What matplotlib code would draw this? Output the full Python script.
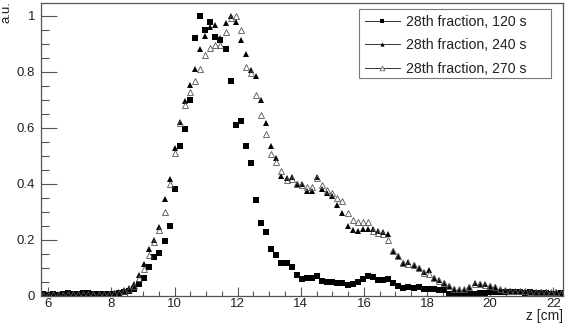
import matplotlib
matplotlib.use('Agg')
import matplotlib.pyplot as plt
from matplotlib.lines import Line2D
from matplotlib.patches import Rectangle
from matplotlib.ticker import FixedLocator, FixedFormatter, MultipleLocator

plt.rcParams['font.family'] = ['Liberation Sans', 'DejaVu Sans']

# ---------------- data ----------------
z = [5.820, 5.981, 6.142, 6.303, 6.464, 6.625, 6.786, 6.947, 7.108, 7.269,
     7.430, 7.591, 7.752, 7.913, 8.074, 8.235, 8.396, 8.557, 8.718, 8.879,
     9.040, 9.201, 9.362, 9.523, 9.684, 9.845, 10.006, 10.167, 10.328, 10.489,
     10.650, 10.811, 10.972, 11.133, 11.294, 11.455, 11.616, 11.777, 11.938, 12.099,
     12.260, 12.421, 12.582, 12.743, 12.904, 13.065, 13.226, 13.387, 13.548, 13.709,
     13.870, 14.031, 14.192, 14.353, 14.514, 14.675, 14.836, 14.997, 15.158, 15.319,
     15.480, 15.641, 15.802, 15.963, 16.124, 16.285, 16.446, 16.607, 16.768, 16.929,
     17.090, 17.251, 17.412, 17.573, 17.734, 17.895, 18.056, 18.217, 18.378, 18.539,
     18.700, 18.861, 19.022, 19.183, 19.344, 19.505, 19.666, 19.827, 19.988, 20.149,
     20.310, 20.471, 20.632, 20.793, 20.954, 21.115, 21.276, 21.437, 21.598, 21.759,
     21.920, 22.081, 22.242]

s120 = [0.004, 0.003, 0.005, 0.003, 0.006, 0.009, 0.006, 0.007, 0.010, 0.008,
        0.007, 0.007, 0.005, 0.004, 0.006, 0.008, 0.012, 0.017, 0.024, 0.040,
        0.064, 0.103, 0.136, 0.151, 0.196, 0.248, 0.379, 0.534, 0.595, 0.700,
        0.920, 1.000, 0.949, 0.978, 0.923, 0.912, 0.879, 0.766, 0.608, 0.624,
        0.534, 0.472, 0.341, 0.258, 0.228, 0.165, 0.146, 0.115, 0.115, 0.101,
        0.073, 0.059, 0.061, 0.061, 0.071, 0.053, 0.047, 0.047, 0.044, 0.044,
        0.038, 0.040, 0.047, 0.060, 0.068, 0.065, 0.057, 0.055, 0.060, 0.044,
        0.034, 0.026, 0.031, 0.026, 0.031, 0.023, 0.022, 0.022, 0.020, 0.020,
        0.004, 0.003, 0.003, 0.003, 0.004, 0.005, 0.008, 0.010, 0.012, 0.014,
        0.012, 0.013, 0.012, 0.011, 0.012, 0.010, 0.011, 0.010, 0.009, 0.008,
        0.007, 0.006, 0.008]

s240 = [0.003, 0.004, 0.002, 0.005, 0.004, 0.006, 0.005, 0.004, 0.006, 0.005,
        0.004, 0.005, 0.006, 0.007, 0.010, 0.013, 0.020, 0.026, 0.041, 0.072,
        0.111, 0.165, 0.200, 0.243, 0.344, 0.418, 0.528, 0.620, 0.695, 0.751,
        0.809, 0.880, 0.928, 0.960, 0.966, 0.920, 0.972, 1.000, 0.977, 0.912,
        0.862, 0.806, 0.784, 0.700, 0.615, 0.534, 0.493, 0.427, 0.419, 0.422,
        0.397, 0.397, 0.373, 0.373, 0.422, 0.379, 0.365, 0.355, 0.324, 0.293,
        0.247, 0.235, 0.231, 0.238, 0.236, 0.238, 0.232, 0.228, 0.218, 0.160,
        0.141, 0.115, 0.121, 0.109, 0.099, 0.084, 0.091, 0.061, 0.055, 0.046,
        0.034, 0.022, 0.020, 0.021, 0.030, 0.043, 0.041, 0.041, 0.034, 0.030,
        0.020, 0.016, 0.015, 0.014, 0.013, 0.014, 0.012, 0.013, 0.011, 0.012,
        0.010, 0.011, 0.009]

s270 = [0.002, 0.003, 0.004, 0.003, 0.003, 0.005, 0.004, 0.005, 0.004, 0.006,
        0.005, 0.004, 0.005, 0.005, 0.008, 0.010, 0.015, 0.022, 0.035, 0.064,
        0.095, 0.145, 0.192, 0.235, 0.300, 0.400, 0.510, 0.615, 0.680, 0.728,
        0.767, 0.809, 0.859, 0.885, 0.895, 0.895, 0.942, 0.990, 1.000, 0.948,
        0.817, 0.794, 0.716, 0.645, 0.577, 0.506, 0.478, 0.444, 0.414, 0.416,
        0.398, 0.395, 0.389, 0.389, 0.420, 0.394, 0.378, 0.366, 0.350, 0.338,
        0.296, 0.271, 0.263, 0.263, 0.263, 0.232, 0.222, 0.218, 0.200, 0.160,
        0.140, 0.115, 0.113, 0.109, 0.098, 0.080, 0.077, 0.061, 0.053, 0.044,
        0.034, 0.024, 0.022, 0.022, 0.029, 0.040, 0.040, 0.038, 0.035, 0.030,
        0.022, 0.019, 0.017, 0.016, 0.015, 0.015, 0.014, 0.013, 0.013, 0.012,
        0.012, 0.011, 0.010]

series_labels = ['28th fraction, 120 s', '28th fraction, 240 s', '28th fraction, 270 s']
x_ticks = [6, 8, 10, 12, 14, 16, 18, 20, 22]
x_ticklabels = ['6', '8', '10', '12', '14', '16', '18', '20', '22']
y_ticks = [0, 0.2, 0.4, 0.6, 0.8, 1.0]
y_ticklabels = ['0', '0.2', '0.4', '0.6', '0.8', '1']
x_title = 'z [cm]'
y_title = 'a.u.'

# ---------------- figure ----------------
W, H = 566, 324
fig = plt.figure(figsize=(W / 100, H / 100), dpi=100)
ax = fig.add_axes([41 / W, 28.5 / H, 522 / W, 292.5 / H])

ax.plot(z, s120, ls='none', marker='s', ms=3.7, color='black', mew=0)
ax.plot(z, s240, ls='none', marker='^', ms=3.8, color='black', mew=0)
ax.plot(z, s270, ls='none', marker='^', ms=4.4, mfc='none', mec='#555555', mew=0.6)

ax.set_xlim(5.769, 22.307)
ax.set_ylim(0, 1.045)

axis_col = '#555555'
for sp in ax.spines.values():
    sp.set_color(axis_col)
    sp.set_linewidth(0.9)

ax.xaxis.set_major_locator(FixedLocator(x_ticks))
ax.xaxis.set_major_formatter(FixedFormatter(x_ticklabels))
ax.xaxis.set_minor_locator(MultipleLocator(0.5))
ax.yaxis.set_major_locator(FixedLocator(y_ticks))
ax.yaxis.set_major_formatter(FixedFormatter(y_ticklabels))
ax.yaxis.set_minor_locator(MultipleLocator(0.05))

ax.tick_params(axis='x', which='major', direction='in', length=6.5, width=0.8,
               color=axis_col, labelsize=9.5, pad=2, top=False)
ax.tick_params(axis='x', which='minor', direction='in', length=3.5, width=0.8,
               color=axis_col, top=False)
ax.tick_params(axis='y', which='major', direction='in', length=11.5, width=0.8,
               color=axis_col, labelsize=9.5, pad=4.3, right=False)
ax.tick_params(axis='y', which='minor', direction='in', length=6, width=0.8,
               color=axis_col, right=False)
for lab in ax.get_xticklabels() + ax.get_yticklabels():
    lab.set_color('#222222')

fig.text(563 / W, 4 / H, x_title, ha='right', va='baseline', fontsize=10, color='#222222')
fig.text(0.5 / W, 1 - 1 / H, y_title, ha='left', va='top', rotation=90,
         fontsize=9.5, color='#222222')

# legend box
fig.patches.append(Rectangle((359 / W, 1 - 78 / H), 192 / W, 69 / H,
                             transform=fig.transFigure, facecolor='white',
                             edgecolor='#777777', linewidth=0.8, zorder=5))
handles = [
    Line2D([], [], color='#333333', lw=0.7, marker='s', ms=3, mew=0, mfc='black'),
    Line2D([], [], color='#333333', lw=0.7, marker='^', ms=3, mew=0, mfc='black'),
    Line2D([], [], color='#333333', lw=0.7, marker='^', ms=3.4, mfc='white', mec='#555555', mew=0.5),
]
leg = fig.legend(handles, series_labels, loc='upper left',
                 bbox_to_anchor=(365 / W, 1 - 14.5 / H), bbox_transform=fig.transFigure,
                 frameon=False, borderpad=0, borderaxespad=0, fontsize=10.2,
                 handlelength=2.45, handletextpad=0.45, labelspacing=0.68)
for t in leg.get_texts():
    t.set_color('#222222')

fig.savefig('out.png', dpi=100)
